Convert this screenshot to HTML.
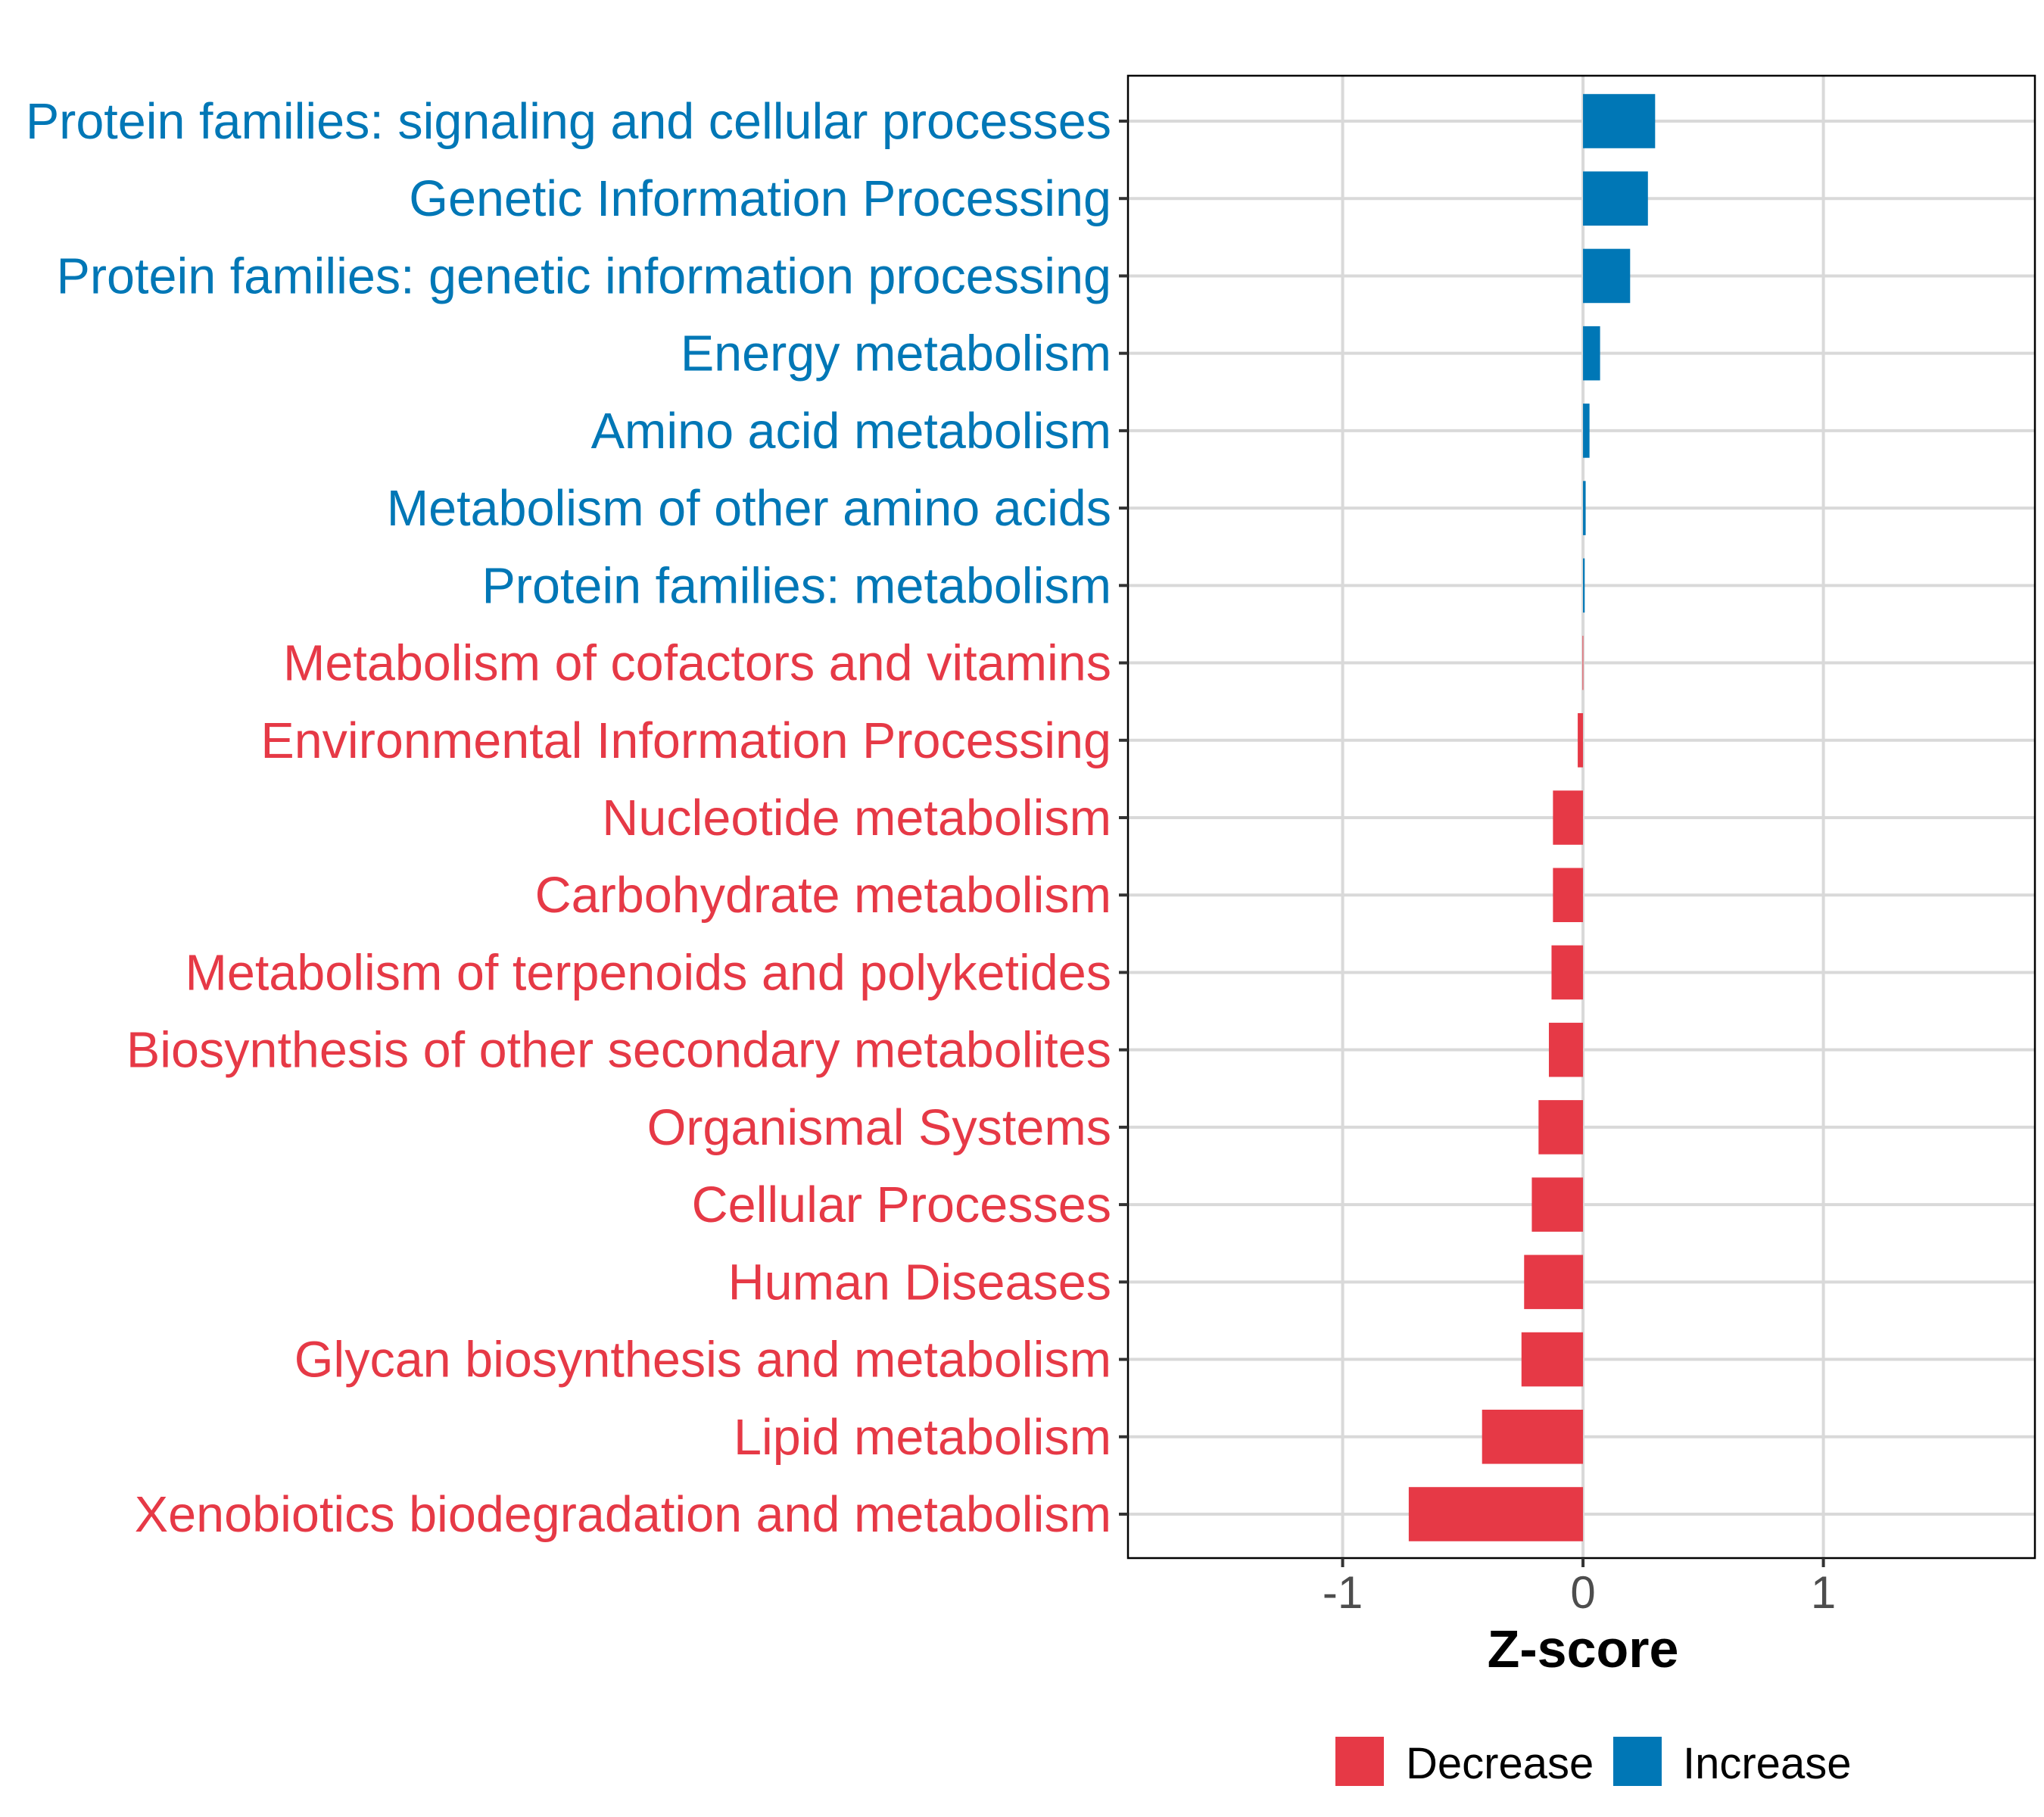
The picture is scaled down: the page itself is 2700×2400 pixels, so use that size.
<!DOCTYPE html>
<html><head><meta charset="utf-8"><style>
html,body{margin:0;padding:0;background:#fff;}
svg{display:block;font-family:"Liberation Sans",Arial,sans-serif;}
</style></head><body>
<svg id="chart" width="2700" height="2400" viewBox="0 0 2700 2400" xmlns="http://www.w3.org/2000/svg">
<rect x="0" y="0" width="2700" height="2400" fill="#fff"/>
<g id="grid"></g>
<g id="bars"></g>
<rect x="1490" y="100" width="1198" height="1958" fill="none" stroke="#000" stroke-width="2.5"/>
<g id="yaxis"></g>
<g id="xaxis"></g>
<text x="2091" y="2202" text-anchor="middle" font-size="70" font-weight="bold" fill="#000">Z-score</text>
<g>
<rect x="1764" y="2294" width="64" height="65" fill="#e63946"/>
<text x="1857" y="2349" font-size="58" fill="#000">Decrease</text>
<rect x="2131" y="2294" width="64" height="65" fill="#0077b6"/>
<text x="2223" y="2349" font-size="58" fill="#000">Increase</text>
</g>
</svg>
<script>
const categories = ["Protein families: signaling and cellular processes","Genetic Information Processing","Protein families: genetic information processing","Energy metabolism","Amino acid metabolism","Metabolism of other amino acids","Protein families: metabolism","Metabolism of cofactors and vitamins","Environmental Information Processing","Nucleotide metabolism","Carbohydrate metabolism","Metabolism of terpenoids and polyketides","Biosynthesis of other secondary metabolites","Organismal Systems","Cellular Processes","Human Diseases","Glycan biosynthesis and metabolism","Lipid metabolism","Xenobiotics biodegradation and metabolism"];
const zscores = [0.30,0.27,0.196,0.071,0.027,0.011,0.007,-0.002,-0.022,-0.125,-0.125,-0.131,-0.142,-0.185,-0.213,-0.245,-0.256,-0.42,-0.725];
const xTicks = [-1,0,1];
const xTickLabels = ["-1","0","1"];

const NS="http://www.w3.org/2000/svg";
const L=1490,R=2688,T=100,B=2058;
const xMin=-1.893,xMax=1.88;
const x=v=>L+(v-xMin)/(xMax-xMin)*(R-L);
const n=categories.length;
const firstY=160,lastY=2000;
const step=(lastY-firstY)/(n-1);
const y=i=>firstY+i*step;
const RED="#e63946",BLUE="#0077b6";
function mk(tag,attrs,parent){const e=document.createElementNS(NS,tag);for(const k in attrs)e.setAttribute(k,attrs[k]);parent.appendChild(e);return e;}
const grid=document.getElementById('grid'),bars=document.getElementById('bars'),ya=document.getElementById('yaxis'),xa=document.getElementById('xaxis');
xTicks.forEach((t,i)=>{
  const g=mk('line',{x1:x(t),x2:x(t),y1:T,y2:B,stroke:"#d9d9d9","stroke-width":4},grid);
  
  
  const tk=mk('line',{x1:x(t),x2:x(t),y1:B,y2:B+12,stroke:"#333","stroke-width":4},xa);
  
  
  const tl=mk('text',{x:x(t),y:B+66,"text-anchor":"middle","font-size":60,fill:"#4d4d4d"},xa);
  tl.textContent=xTickLabels[i];
  
  
});
categories.forEach((c,i)=>{
  const yy=y(i);
  const g=mk('line',{x1:L,x2:R,y1:yy,y2:yy,stroke:"#d9d9d9","stroke-width":4},grid);
  
  
  const v=zscores[i];
  const col=v>=0?BLUE:RED;
  const x0=x(0),x1=x(v);
  const bh=step*0.7;
  const b=mk('rect',{x:Math.min(x0,x1),y:yy-bh/2,width:Math.max(Math.abs(x1-x0),1),height:bh,fill:col},bars);
  
  
  const tk=mk('line',{x1:L-12,x2:L,y1:yy,y2:yy,stroke:"#333","stroke-width":4},ya);
  
  
  const tl=mk('text',{x:1468,y:yy+23,"text-anchor":"end","font-size":66.5,fill:col},ya);
  tl.textContent=c;
  
  
});
</script>
</body></html>
